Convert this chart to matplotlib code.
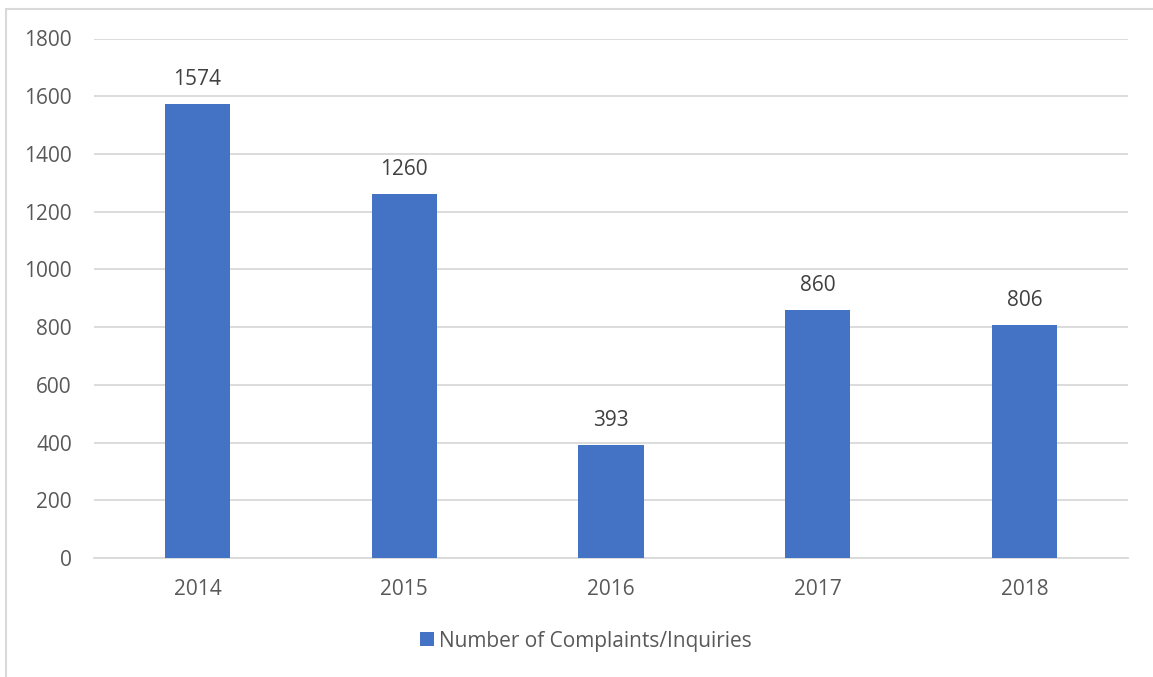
import matplotlib
matplotlib.use("Agg")
import matplotlib.pyplot as plt
from matplotlib.patches import Rectangle, Patch

years = ["2014", "2015", "2016", "2017", "2018"]
complaints = [1574, 1260, 393, 860, 806]
y_ticks = [0, 200, 400, 600, 800, 1000, 1200, 1400, 1600, 1800]
series_name = "Number of Complaints/Inquiries"

W, H = 1153, 677
fig = plt.figure(figsize=(W / 100, H / 100), dpi=100)
fig.patch.set_facecolor("white")

# Chart frame
fig.add_artist(Rectangle((6 / W, -0.01), 1.2, 1 - 8.5 / H + 0.01,
                         transform=fig.transFigure, fill=False,
                         edgecolor="#D9D9D9", linewidth=1.5))

ax = fig.add_axes([94 / W, 1 - 558 / H, (1128 - 94) / W, (558 - 38.5) / H])
text_color = "#595959"
font = "Open Sans"
fsize = 15
bar_color = "#4472C4"

x = list(range(len(years)))
bars = ax.bar(x, complaints, width=0.315, color=bar_color, zorder=3)
for xi, v in zip(x, complaints):
    ax.annotate(str(v), (xi, v), xytext=(0, 10), textcoords="offset points",
                ha="center", va="bottom", fontsize=fsize, color="#404040",
                fontfamily=font)

ax.set_xlim(-0.5, len(years) - 0.5)
ax.set_ylim(0, 1800)
ax.set_yticks(y_ticks)
ax.set_yticklabels([str(t) for t in y_ticks], fontsize=fsize, color=text_color,
                   fontfamily=font)
ax.set_xticks(x)
ax.set_xticklabels(years, fontsize=fsize, color=text_color, fontfamily=font)
ax.tick_params(axis="both", length=0)
ax.tick_params(axis="y", pad=16)
ax.tick_params(axis="x", pad=15)
ax.grid(axis="y", color="#D9D9D9", linewidth=1.3, zorder=0)
for s in ["top", "right", "left"]:
    ax.spines[s].set_visible(False)
ax.spines["bottom"].set_color("#D9D9D9")
ax.spines["bottom"].set_linewidth(1.3)

handle = Patch(facecolor=bar_color, edgecolor="none")
leg = fig.legend([handle], [series_name], loc="center",
                 bbox_to_anchor=(586 / W, 1 - 641 / H), frameon=False,
                 handlelength=0.65, handleheight=0.65, handletextpad=0.25,
                 prop={"family": font, "size": fsize})
for t in leg.get_texts():
    t.set_color(text_color)

fig.savefig("out.png", dpi=100)
